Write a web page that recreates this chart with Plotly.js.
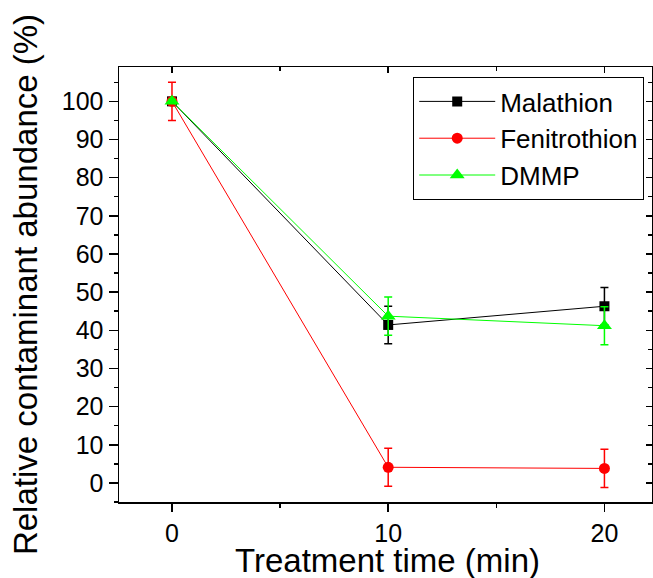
<!DOCTYPE html>
<html>
<head>
<meta charset="utf-8">
<script src="https://cdn.plot.ly/plotly-3.0.1.min.js"></script>
<style>html,body{margin:0;padding:0;background:#fff;}#chart{width:653px;height:578px;}</style>
</head>
<body>
<div id="chart"></div>
<script>
// Data
const times = [0, 10, 20];
const malathion = [100, 41.4, 46.3];
const malathionErr = [0.5, 4.9, 4.9];
const fenitrothion = [100, 4.1, 3.8];
const fenitrothionErr = [5, 5, 5];
const dmmp = [100, 43.7, 41.2];
const dmmpErr = [0.5, 5, 5];
const seriesNames = ["Malathion", "Fenitrothion", "DMMP"];
const xTicks = [0, 10, 20];
const yTicks = [0, 10, 20, 30, 40, 50, 60, 70, 80, 90, 100];
const xTitle = "Treatment time (min)";
const yTitle = "Relative contaminant abundance (%)";

const font = "Liberation Sans, Arial, sans-serif";
const xRange = [-2.45, 22.2];
const yRange = [-5, 109];

function series(name, y, err, color, symbol, size) {
  return {
    type: "scatter", mode: "lines+markers", name: name,
    x: times, y: y,
    line: {color: color, width: 1},
    marker: {color: color, symbol: symbol, size: size, line: {width: 0}},
    error_y: {type: "data", array: err, visible: true, color: color, thickness: 1.5, width: 4}
  };
}

const traces = [
  series(seriesNames[0], malathion, malathionErr, "#000000", "square", 10),
  series(seriesNames[1], fenitrothion, fenitrothionErr, "#ff0000", "circle", 11),
  series(seriesNames[2], dmmp, dmmpErr, "#00ff00", "triangle-up", 13),
  {type: "scatter", x: [], y: [], xaxis: "x2", yaxis: "y2", showlegend: false, hoverinfo: "skip"}
];

const layout = {
  width: 653, height: 578,
  margin: {l: 119, r: 1, t: 67, b: 76, pad: 0},
  paper_bgcolor: "#ffffff", plot_bgcolor: "#ffffff",
  font: {family: font, color: "#000000", size: 25},
  showlegend: true,
  legend: {
    x: 0.552, y: 0.977, xanchor: "left", yanchor: "top",
    bgcolor: "#ffffff", bordercolor: "#000000", borderwidth: 1,
    font: {family: font, size: 26, color: "#000000"},
    itemwidth: 76
  },
  annotations: [{
    text: xTitle, xref: "paper", yref: "paper", x: 0.504, y: -0.1747,
    xanchor: "center", yanchor: "bottom", yshift: -3, showarrow: false,
    font: {family: font, size: 33, color: "#000000"}
  }],
  xaxis: {
    range: xRange, tickvals: xTicks, ticktext: xTicks.map(String),
    showgrid: false, zeroline: false,
    showline: true, linecolor: "#000000", linewidth: 1.5, mirror: true,
    ticks: "outside", ticklen: 8, tickwidth: 1.5, tickcolor: "#000000",
    minor: {dtick: 5, tick0: 0, ticks: "outside", ticklen: 4, tickwidth: 1.5, tickcolor: "#000000"},
    tickfont: {family: font, size: 25}
  },
  yaxis: {
    range: yRange, tickvals: yTicks, ticktext: yTicks.map(String),
    showgrid: false, zeroline: false,
    showline: true, linecolor: "#000000", linewidth: 1.5, mirror: true,
    ticks: "outside", ticklen: 9, tickwidth: 1.5, tickcolor: "#000000",
    minor: {dtick: 5, tick0: 0, ticks: "outside", ticklen: 4, tickwidth: 1.5, tickcolor: "#000000"},
    tickfont: {family: font, size: 25},
    title: {text: yTitle, font: {family: font, size: 33}, standoff: 14}
  },
  xaxis2: {
    overlaying: "x", side: "top", anchor: "y", range: xRange, tickvals: xTicks,
    showticklabels: false, showgrid: false, zeroline: false, showline: false,
    ticks: "inside", ticklen: 6, tickwidth: 1.5, tickcolor: "#000000",
    minor: {dtick: 5, tick0: 0, ticks: "inside", ticklen: 4, tickwidth: 1.5, tickcolor: "#000000"}
  },
  yaxis2: {
    overlaying: "y", side: "right", anchor: "x", range: yRange, tickvals: yTicks,
    showticklabels: false, showgrid: false, zeroline: false, showline: false,
    ticks: "inside", ticklen: 6, tickwidth: 1.5, tickcolor: "#000000",
    minor: {dtick: 5, tick0: 0, ticks: "inside", ticklen: 4, tickwidth: 1.5, tickcolor: "#000000"}
  }
};

Plotly.newPlot("chart", traces, layout, {staticPlot: true, displayModeBar: false});
</script>
</body>
</html>
